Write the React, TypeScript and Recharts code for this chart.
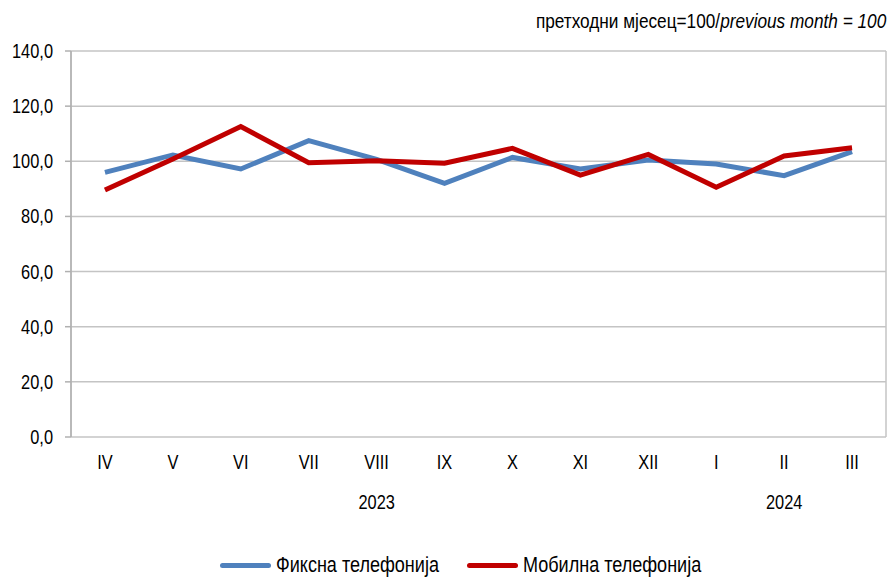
import React from 'react';
import { LineChart, Line, XAxis, YAxis, CartesianGrid, Legend } from 'recharts';

const months = ['IV', 'V', 'VI', 'VII', 'VIII', 'IX', 'X', 'XI', 'XII', 'I', 'II', 'III'];
const years: { [idx: number]: string } = { 4: '2023', 10: '2024' };
const fixedPhone = [96.0, 102.3, 97.2, 107.5, 100.7, 92.0, 101.4, 97.2, 100.5, 99.0, 94.8, 103.5];
const mobilePhone = [89.6, 100.8, 112.6, 99.5, 100.2, 99.3, 104.7, 95.0, 102.5, 90.6, 101.9, 104.9];
const yTicks = [0, 20, 40, 60, 80, 100, 120, 140];
const seriesOrder = ['fixed', 'mobile'];
const seriesNames = { fixed: 'Фиксна телефонија', mobile: 'Мобилна телефонија' };

const data = months.map((m, i) => ({
  pos: i + 0.5,
  month: m,
  fixed: fixedPhone[i],
  mobile: mobilePhone[i],
}));
const labelTicks = months.map((_, i) => i + 0.5);
const boundaryTicks = [...months.map((_, i) => i), months.length];

const FONT = "'Liberation Sans', Arial, sans-serif";
const SX = 0.82;
const BLUE = '#4f81bd';
const RED = '#c00000';
const legendLefts = [220, 467];

const NarrowText = ({ x, y, anchor, size, children }: any) => (
  <text
    transform={`translate(${x},${y}) scale(${SX},1)`}
    x={0}
    y={0}
    textAnchor={anchor}
    fontFamily={FONT}
    fontSize={size}
    fill="#000"
  >
    {children}
  </text>
);

const MonthTick = (props: any) => {
  const { x, y, index } = props;
  return (
    <g>
      <NarrowText x={x} y={y + 32} anchor="middle" size={20}>{months[index]}</NarrowText>
      {years[index] ? (
        <NarrowText x={x} y={y + 72} anchor="middle" size={20}>{years[index]}</NarrowText>
      ) : null}
    </g>
  );
};

const ValueTick = (props: any) => {
  const { x, y, payload } = props;
  return (
    <NarrowText x={x} y={y + 7} anchor="end" size={20}>
      {Number(payload.value).toFixed(1).replace('.', ',')}
    </NarrowText>
  );
};

const LegendContent = (props: any) => {
  const payload = [...(props.payload || [])].sort(
    (a: any, b: any) => seriesOrder.indexOf(a.dataKey) - seriesOrder.indexOf(b.dataKey)
  );
  return (
    <div style={{ position: 'relative', height: 24, width: 891, fontFamily: FONT, fontSize: 22 }}>
      {payload.map((p: any, i: number) => (
        <div key={i} style={{ position: 'absolute', left: legendLefts[i], top: 0, height: 24, display: 'flex', alignItems: 'center', whiteSpace: 'nowrap' }}>
          <div style={{ width: 51, height: 5, borderRadius: 3, background: p.color, marginRight: 5 }} />
          <span style={{ color: '#000', display: 'inline-block', transform: `scaleX(${SX})`, transformOrigin: 'left center' }}>
            {p.value}
          </span>
        </div>
      ))}
    </div>
  );
};

export default function App() {
  return (
    <div style={{ position: 'absolute', left: 0, top: 0, width: 891, height: 577, background: '#fff' }}>
      <div style={{ position: 'absolute', right: 5, top: 9, fontFamily: FONT, fontSize: 21, color: '#000', whiteSpace: 'nowrap', transform: `scaleX(${SX})`, transformOrigin: 'right center' }}>
        претходни мјесец=100/<i>previous month = 100</i>
      </div>
      <LineChart width={891} height={577} data={data} margin={{ top: 51, right: 5, bottom: 0, left: 0 }}>
        <CartesianGrid xAxisId="grid" yAxisId="y" stroke="#c4c4c4" strokeWidth={1.5} />
        <XAxis
          xAxisId="grid"
          type="number"
          domain={[0, 12]}
          ticks={boundaryTicks}
          tick={false}
          tickSize={7}
          height={0}
          axisLine={{ stroke: '#b0b0b0', strokeWidth: 1.5 }}
          tickLine={{ stroke: '#b0b0b0', strokeWidth: 1.5 }}
          allowDataOverflow
        />
        <XAxis
          xAxisId="lab"
          type="number"
          dataKey="pos"
          domain={[0, 12]}
          ticks={labelTicks}
          tick={<MonthTick />}
          tickLine={false}
          axisLine={false}
          tickSize={0}
          tickMargin={0}
          height={116}
          interval={0}
        />
        <YAxis
          yAxisId="y"
          domain={[0, 140]}
          ticks={yTicks}
          width={71}
          tickSize={6}
          tickMargin={12}
          tick={<ValueTick />}
          axisLine={{ stroke: '#b0b0b0', strokeWidth: 1.5 }}
          tickLine={{ stroke: '#b0b0b0', strokeWidth: 1.5 }}
          interval={0}
        />
        <Legend verticalAlign="bottom" content={<LegendContent />} />
        <Line
          xAxisId="lab"
          yAxisId="y"
          type="linear"
          dataKey="fixed"
          name={seriesNames.fixed}
          stroke={BLUE}
          strokeWidth={5}
          dot={false}
          isAnimationActive={false}
        />
        <Line
          xAxisId="lab"
          yAxisId="y"
          type="linear"
          dataKey="mobile"
          name={seriesNames.mobile}
          stroke={RED}
          strokeWidth={5}
          dot={false}
          isAnimationActive={false}
        />
      </LineChart>
    </div>
  );
}
